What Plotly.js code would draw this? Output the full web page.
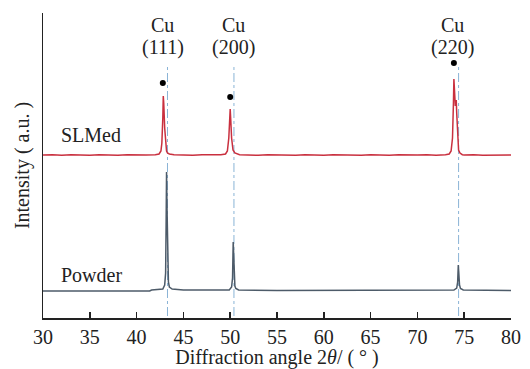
<!DOCTYPE html>
<html><head><meta charset="utf-8">
<script src="https://cdn.plot.ly/plotly-3.0.1.min.js"></script>
<style>html,body{margin:0;padding:0;background:#fff}#c{width:530px;height:369px}</style>
</head><body><div id="c"></div>
<script>
// Powder pattern (2θ in degrees, intensity in a.u.)
const powderX = [30, 35, 40, 41.4, 41.6, 42.8, 43.0, 43.1, 43.15, 43.2, 43.25, 43.3, 43.4, 43.5, 43.8, 45, 49.9, 50.15, 50.25, 50.32, 50.37, 50.42, 50.5, 50.6, 50.9, 55, 60, 65, 70, 73.9, 74.2, 74.3, 74.37, 74.42, 74.5, 74.6, 74.9, 80];
const powderY = [27, 27, 27, 27, 28, 29, 33, 45, 90, 146, 110, 60, 36, 31, 29, 28, 28, 31, 40, 76, 60, 38, 32, 29.5, 28, 27.5, 27.5, 27.5, 27.5, 28, 30, 36, 53, 44, 33, 29.5, 28, 27.5];
// SLMed pattern
const slmX = [30, 31, 32, 33, 34, 35, 36, 37, 38, 39, 40, 41, 42, 42.4, 42.6, 42.7, 42.8, 42.85, 42.9, 43.0, 43.1, 43.2, 43.3, 43.5, 44, 45, 46, 47, 48, 49, 49.5, 49.7, 49.85, 49.95, 50.0, 50.05, 50.15, 50.3, 50.5, 51, 52, 53, 54, 55, 56, 57, 58, 59, 60, 61, 62, 63, 64, 65, 66, 67, 68, 69, 70, 71, 72, 73, 73.4, 73.6, 73.75, 73.85, 73.9, 73.95, 74.05, 74.15, 74.2, 74.3, 74.4, 74.55, 74.8, 75, 76, 77, 78, 79, 80];
const slmY = [163, 163.3, 162.7, 163.3, 163, 162.7, 163.3, 163, 162.7, 163.3, 163, 163, 163.3, 164, 167, 175, 200, 222, 215, 190, 172, 167, 165, 164, 163.3, 163, 162.7, 163.3, 163, 163.3, 164, 167, 180, 203, 209, 200, 180, 168, 165, 163.3, 163, 162.7, 163.3, 163, 163, 162.7, 163.3, 163, 162.7, 163.3, 163, 163, 162.7, 163.3, 163, 162.7, 163.3, 163, 163, 163.3, 162.7, 163.3, 164, 167, 180, 215, 239, 230, 212, 218, 205, 180, 168, 165, 163.3, 163, 163.3, 162.7, 163, 163.3, 163];
// Peak markers and reference lines
const dotX = [42.8, 50.0, 73.9];
const dotY = [235, 221, 255];
const refX = [43.3, 50.4, 74.4];
const peakElement = ['Cu', 'Cu', 'Cu'];
const peakPlane = ['(111)', '(200)', '(220)'];
const labelX = [42.8, 50.3, 73.8];
const sampleNames = ['SLMed', 'Powder'];
const sampleNameY = [183, 43];
const xTicks = [30, 35, 40, 45, 50, 55, 60, 65, 70, 75, 80];

const serif = 'Liberation Serif, Times New Roman, serif';
const fs = 20;
const traces = [
  {x: powderX, y: powderY, mode: 'lines', line: {color: '#4d5b69', width: 1.5}, hoverinfo: 'skip'},
  {x: slmX, y: slmY, mode: 'lines', line: {color: '#c9303f', width: 1.5}, hoverinfo: 'skip'},
  {x: dotX, y: dotY, mode: 'markers', marker: {color: '#000', size: 6}, hoverinfo: 'skip'}
];
const shapes = refX.map(v => ({type: 'line', xref: 'x', yref: 'y', x0: v, x1: v, y0: 2, y1: 252,
  line: {color: '#8ab4d6', width: 1, dash: 'dashdot'}, layer: 'below'}));
const annotations = [];
peakElement.forEach((t, i) => {
  annotations.push({x: labelX[i], y: 1.0, xref: 'x', yref: 'paper', text: t, showarrow: false,
    yanchor: 'middle', yshift: -12, font: {family: serif, size: fs, color: '#222'}});
  annotations.push({x: labelX[i], y: 1.0, xref: 'x', yref: 'paper', text: peakPlane[i], showarrow: false,
    yanchor: 'middle', yshift: -34, font: {family: serif, size: fs, color: '#222'}});
});
sampleNames.forEach((n, i) => annotations.push({x: 31.7, y: sampleNameY[i], xref: 'x', yref: 'y', text: n,
  showarrow: false, xanchor: 'left', font: {family: serif, size: fs, color: '#222'}}));

const layout = {
  width: 530, height: 369,
  margin: {l: 43, r: 19, t: 13, b: 51},
  paper_bgcolor: '#fff', plot_bgcolor: '#fff',
  showlegend: false,
  font: {family: serif, size: fs, color: '#222'},
  xaxis: {range: [30, 80], tickvals: xTicks, ticks: 'inside', ticklen: 6, tickwidth: 1.5, tickcolor: '#222',
    showline: true, linecolor: '#222', linewidth: 1.5, showgrid: false, zeroline: false,
    tickfont: {family: serif, size: fs, color: '#222'},
    title: {text: 'Diffraction angle 2<i>θ</i>/ ( ° )', font: {family: serif, size: fs, color: '#222'}, standoff: 2}},
  yaxis: {range: [0, 305], tickvals: [305], ticks: 'inside', ticklen: 6, tickwidth: 1.5, tickcolor: '#222',
    showticklabels: false, showline: true, linecolor: '#222', linewidth: 1.5, showgrid: false, zeroline: false,
    title: {text: 'Intensity ( a.u. )', font: {family: serif, size: fs, color: '#222'}, standoff: 6}},
  shapes: shapes,
  annotations: annotations
};
Plotly.newPlot('c', traces, layout, {displayModeBar: false, staticPlot: true});
</script></body></html>
